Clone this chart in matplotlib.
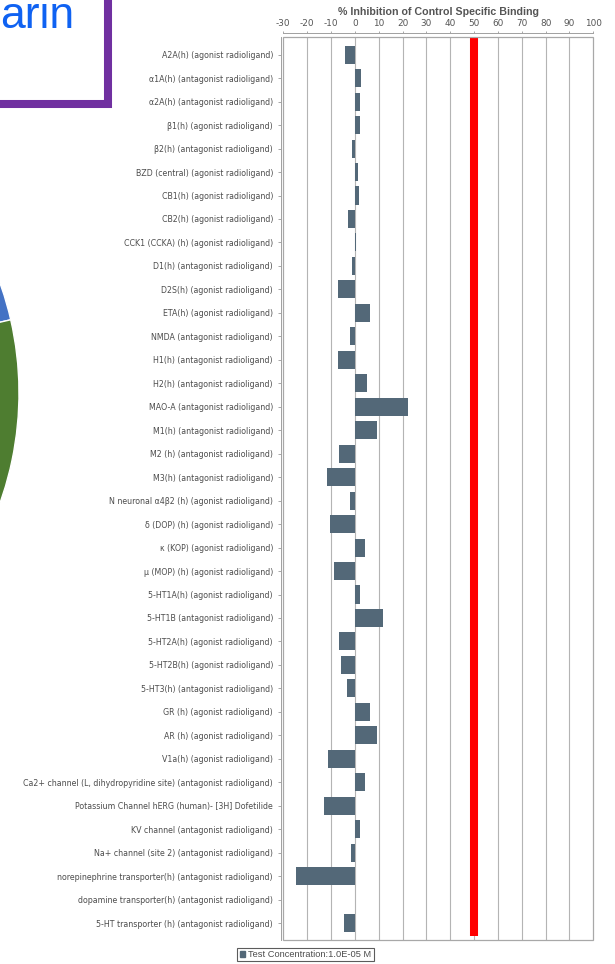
import matplotlib
matplotlib.use("Agg")
import matplotlib.pyplot as plt
from matplotlib.patches import Rectangle, Patch

# ---- data -------------------------------------------------------------
targets = [
    "A2A(h) (agonist radioligand)",
    "α1A(h) (antagonist radioligand)",
    "α2A(h) (antagonist radioligand)",
    "β1(h) (agonist radioligand)",
    "β2(h) (antagonist radioligand)",
    "BZD (central) (agonist radioligand)",
    "CB1(h) (agonist radioligand)",
    "CB2(h) (agonist radioligand)",
    "CCK1 (CCKA) (h) (agonist radioligand)",
    "D1(h) (antagonist radioligand)",
    "D2S(h) (agonist radioligand)",
    "ETA(h) (agonist radioligand)",
    "NMDA (antagonist radioligand)",
    "H1(h) (antagonist radioligand)",
    "H2(h) (antagonist radioligand)",
    "MAO-A (antagonist radioligand)",
    "M1(h) (antagonist radioligand)",
    "M2 (h) (antagonist radioligand)",
    "M3(h) (antagonist radioligand)",
    "N neuronal α4β2 (h) (agonist radioligand)",
    "δ (DOP) (h) (agonist radioligand)",
    "κ (KOP) (agonist radioligand)",
    "μ (MOP) (h) (agonist radioligand)",
    "5-HT1A(h) (agonist radioligand)",
    "5-HT1B (antagonist radioligand)",
    "5-HT2A(h) (agonist radioligand)",
    "5-HT2B(h) (agonist radioligand)",
    "5-HT3(h) (antagonist radioligand)",
    "GR (h) (agonist radioligand)",
    "AR (h) (agonist radioligand)",
    "V1a(h) (agonist radioligand)",
    "Ca2+ channel (L, dihydropyridine site) (antagonist radioligand)",
    "Potassium Channel hERG (human)- [3H] Dofetilide",
    "KV channel (antagonist radioligand)",
    "Na+ channel (site 2) (antagonist radioligand)",
    "norepinephrine transporter(h) (antagonist radioligand)",
    "dopamine transporter(h) (antagonist radioligand)",
    "5-HT transporter (h) (antagonist radioligand)",
]
inhibition = [
    -4.2, 2.6, 2.0, 2.0, -1.3, 1.5, 1.8, -2.9, 0.4, -1.2,
    -7.2, 6.5, -2.1, -7.2, 4.9, 22.5, 9.2, -6.5, -11.7, -1.9,
    -10.3, 4.4, -8.6, 2.2, 11.8, -6.5, -6.0, -3.2, 6.4, 9.3,
    -11.3, 4.4, -12.9, 2.1, -1.8, -24.7, 0.0, -4.6,
]
threshold = 50
x_ticks = list(range(-30, 101, 10))
series_label = "Test Concentration:1.0E-05 M"
title = "% Inhibition of Control Specific Binding"

# neighbouring slide content: pie shares and heading fragment
pie_shares = [13, 32, 55]
pie_colors = ["#4472c4", "#a5a5a5", "#4e7d30"]
heading_text = "arin"

# ---- figure -----------------------------------------------------------
W, H = 615, 964
fig = plt.figure(figsize=(W / 100, H / 100), dpi=100)
fig.patch.set_facecolor("white")

# pixel-space backdrop axes for the slide elements on the left
bg = fig.add_axes([0, 0, 1, 1], zorder=0)
bg.pie(pie_shares, colors=pie_colors, startangle=12.9, counterclock=True,
       center=(-309, H - 393), radius=328,
       wedgeprops=dict(edgecolor="white", linewidth=1.0))
bg.add_patch(Rectangle((-60, H - 104), 168, 200, fill=False,
                       edgecolor="#7030a0", linewidth=5.8))
bg.text(0, H - 28, heading_text, fontsize=32, color="#0f62f2",
        family="Liberation Sans", ha="left", va="baseline")
bg.set_xlim(0, W)
bg.set_ylim(0, H)
bg.set_aspect("auto")
bg.axis("off")

# main bar chart
left, right, top, bottom = 283.3, 593.3, 36.7, 940.0
ax = fig.add_axes([left / W, (H - bottom) / H, (right - left) / W, (bottom - top) / H],
                  zorder=2)
ax.patch.set_alpha(0)

rows = list(range(len(targets)))
bar_color = "#536878"
ax.barh(rows, inhibition, height=0.77, color=bar_color, zorder=3)
ax.vlines(threshold, 37.54, -0.767, colors="#ff0000", linewidth=5.8, zorder=4)

ax.set_xlim(-30, 100)
ax.set_ylim(37.72, -0.767)
ax.set_xticks(x_ticks)
ax.set_xticklabels([str(t) for t in x_ticks])
for t in x_ticks[1:-1]:
    ax.axvline(t, color="#b4b4b4", linewidth=0.8, zorder=1)

ax.xaxis.tick_top()
ax.xaxis.set_label_position("top")
ax.set_yticks(rows)
ax.set_yticklabels(targets)

txt_color = "#4d4d4d"
ax.tick_params(axis="x", top=True, bottom=False, length=1.5, width=0.6,
               color="#999999", labelsize=6.4, labelcolor="#555555", pad=2)
ax.tick_params(axis="y", left=True, length=2.5, width=0.6, color="#999999",
               labelsize=5.7, labelcolor=txt_color, pad=3)
for lab in ax.get_xticklabels() + ax.get_yticklabels():
    lab.set_family("Liberation Sans")

for side in ("left", "top"):
    ax.spines[side].set_color("#a0a0a0")
    ax.spines[side].set_linewidth(0.7)
ax.spines["left"].set_position(("outward", 2))
ax.spines["top"].set_position(("outward", 2.5))
ax.spines["right"].set_visible(False)
ax.spines["bottom"].set_visible(False)
ax.add_patch(Rectangle((0, 0), 1, 1, transform=ax.transAxes, fill=False,
                       edgecolor="#a8a8a8", linewidth=0.9, zorder=5,
                       clip_on=False))

fig.text((left + right) / 2 / W, 1 - 12.3 / H, title, ha="center", va="center",
         fontsize=7.7, fontweight="bold", color="#555555",
         family="Liberation Sans")

leg = fig.legend(handles=[Patch(facecolor=bar_color, edgecolor=bar_color)],
                 labels=[series_label], loc="upper left",
                 bbox_to_anchor=(237.3 / W, 1 - 947.7 / H),
                 fontsize=6.7, frameon=True, fancybox=False,
                 edgecolor="#333333", handlelength=0.6, handleheight=0.6,
                 handletextpad=0.35, borderpad=0.25, borderaxespad=0)
leg.get_frame().set_linewidth(0.8)
for t in leg.get_texts():
    t.set_color(txt_color)
    t.set_family("Liberation Sans")

fig.savefig("out.png", dpi=100, facecolor="white")
